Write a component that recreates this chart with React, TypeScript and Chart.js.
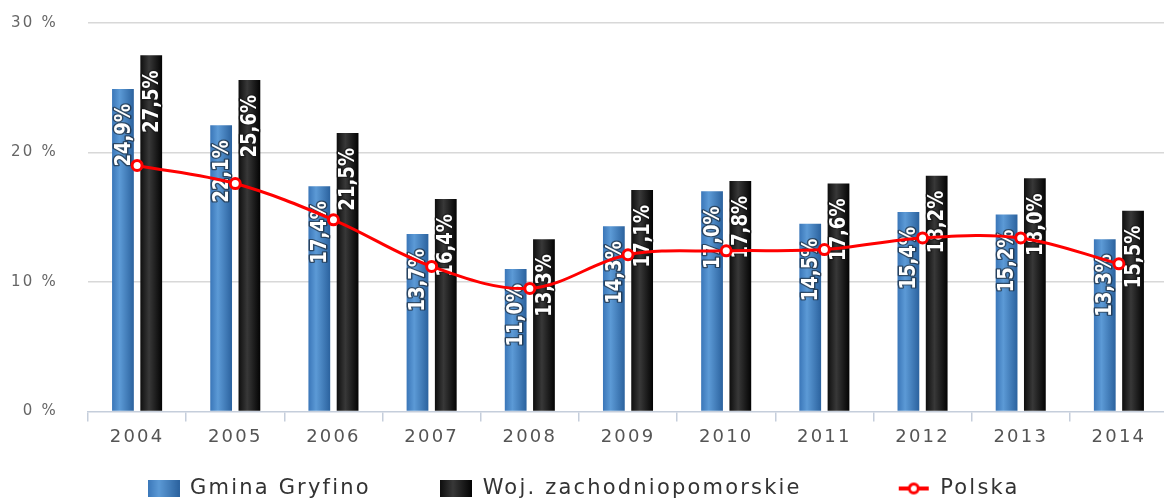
import React, { useEffect, useRef } from 'react';
import { Chart, registerables } from 'chart.js';

Chart.register(...registerables);

const years = ['2004', '2005', '2006', '2007', '2008', '2009', '2010', '2011', '2012', '2013', '2014'];
const gminaGryfino = [24.9, 22.1, 17.4, 13.7, 11.0, 14.3, 17.0, 14.5, 15.4, 15.2, 13.3];
const wojZachodniopomorskie = [27.5, 25.6, 21.5, 16.4, 13.3, 17.1, 17.8, 17.6, 18.2, 18.0, 15.5];
const polska = [19.0, 17.6, 14.8, 11.2, 9.5, 12.1, 12.4, 12.5, 13.4, 13.4, 11.4];
const yTicks = [0, 10, 20, 30];
const seriesNames = ['Gmina Gryfino', 'Woj. zachodniopomorskie', 'Polska'];
const legendTrail = [5, 8, 1];

const CAT_PCT = 0.576;
const BAR_PCT = 0.77;
const BLUE_STOPS: [number, string][] = [[0, '#3a76b8'], [0.35, '#5c9ad6'], [1, '#2b629e']];
const BLACK_STOPS: [number, string][] = [[0, '#0e0e0e'], [0.4, '#383838'], [1, '#030303']];

function barFill(stops: [number, string][], dsIndex: number) {
  return (c: any) => {
    const chart = c.chart;
    const xs = chart.scales && chart.scales.x;
    if (!xs || !chart.chartArea || c.dataIndex === undefined) return stops[1][1];
    const band = xs.width / years.length;
    const xc = xs.getPixelForValue(c.dataIndex);
    const sep = (band * CAT_PCT) / 2;
    const center = xc + (dsIndex === 0 ? -sep / 2 : sep / 2);
    const w = sep * BAR_PCT;
    const g = chart.ctx.createLinearGradient(center - w / 2, 0, center + w / 2, 0);
    stops.forEach(([o, col]) => g.addColorStop(o, col));
    return g;
  };
}

function barSwatch(stops: [number, string][]) {
  const cv = document.createElement('canvas');
  cv.width = 32;
  cv.height = 17;
  const x = cv.getContext('2d')!;
  const g = x.createLinearGradient(0, 0, 32, 0);
  stops.forEach(([o, col]) => g.addColorStop(o, col));
  x.fillStyle = g;
  x.fillRect(0, 0, 32, 17);
  return cv;
}

function lineSwatch() {
  const cv = document.createElement('canvas');
  cv.width = 32;
  cv.height = 16;
  const x = cv.getContext('2d')!;
  x.strokeStyle = '#ff0000';
  x.lineWidth = 4;
  x.beginPath();
  x.moveTo(1, 8);
  x.lineTo(31, 8);
  x.stroke();
  x.beginPath();
  x.arc(16, 8, 4.5, 0, Math.PI * 2);
  x.fillStyle = '#fff';
  x.fill();
  x.lineWidth = 3;
  x.stroke();
  return cv;
}

const SPACING = '2.2px';
const spacingPlugin = {
  id: 'letterSpacing',
  beforeUpdate(chart: any) { chart.ctx.letterSpacing = SPACING; },
  beforeLayout(chart: any) { chart.ctx.letterSpacing = SPACING; },
  beforeDraw(chart: any) { chart.ctx.letterSpacing = SPACING; },
};

const barLabelPlugin = {
  id: 'barLabels',
  afterDatasetDraw(chart: any, args: any) {
    const meta = args.meta;
    if (meta.type !== 'bar') return;
    const ds = chart.data.datasets[args.index];
    const ctx = chart.ctx;
    meta.data.forEach((el: any, i: number) => {
      const v = ds.data[i] as number;
      const text = v.toFixed(1).replace('.', ',') + '%';
      ctx.save();
      ctx.letterSpacing = '0px';
      ctx.translate(el.x, el.y + 15);
      ctx.rotate(-Math.PI / 2);
      ctx.scale(0.82, 1);
      ctx.font = 'bold 22px "DejaVu Sans"';
      ctx.textAlign = 'right';
      ctx.textBaseline = 'middle';
      ctx.lineJoin = 'round';
      ctx.strokeStyle = 'rgba(20,20,20,0.55)';
      ctx.lineWidth = 3;
      ctx.strokeText(text, 0, 1);
      ctx.fillStyle = '#ffffff';
      ctx.fillText(text, 0, 1);
      ctx.restore();
    });
  },
};

export default function App() {
  const ref = useRef<HTMLCanvasElement>(null);

  useEffect(() => {
    if (!ref.current) return;
    const swatches = [barSwatch(BLUE_STOPS), barSwatch(BLACK_STOPS), lineSwatch()];
    const chart = new Chart(ref.current, {
      type: 'bar',
      data: {
        labels: years,
        datasets: [
          {
            type: 'bar',
            label: seriesNames[0],
            data: gminaGryfino,
            backgroundColor: barFill(BLUE_STOPS, 0) as any,
            borderWidth: 0,
            categoryPercentage: CAT_PCT,
            barPercentage: BAR_PCT,
            order: 1,
          },
          {
            type: 'bar',
            label: seriesNames[1],
            data: wojZachodniopomorskie,
            backgroundColor: barFill(BLACK_STOPS, 1) as any,
            borderWidth: 0,
            categoryPercentage: CAT_PCT,
            barPercentage: BAR_PCT,
            order: 1,
          },
          {
            type: 'line',
            label: seriesNames[2],
            data: polska,
            borderColor: '#ff0000',
            borderWidth: 3,
            pointRadius: 5,
            pointBorderWidth: 3,
            pointBackgroundColor: '#ffffff',
            pointBorderColor: '#ff0000',
            tension: 0.35,
            order: 0,
          } as any,
        ],
      },
      options: {
        animation: false,
        responsive: false,
        devicePixelRatio: 1,
        layout: { padding: { top: 23, left: 0, right: 0, bottom: 0 } },
        plugins: {
          tooltip: { enabled: false },
          legend: {
            position: 'bottom',
            labels: {
              usePointStyle: true,
              pointStyleWidth: 32,
              boxHeight: 17,
              padding: 25,
              color: '#333333',
              font: { family: 'DejaVu Sans', size: 21 },
              generateLabels: () =>
                seriesNames.map((name, i) => ({
                  text: name + '\u00A0'.repeat(legendTrail[i]),
                  pointStyle: swatches[i] as any,
                  fillStyle: 'rgba(0,0,0,0)',
                  strokeStyle: 'rgba(0,0,0,0)',
                  lineWidth: 0,
                  hidden: false,
                  datasetIndex: i,
                  fontColor: '#333333',
                })),
            },
          },
        },
        scales: {
          x: {
            offset: true,
            grid: {
              display: true,
              drawOnChartArea: false,
              drawTicks: true,
              tickLength: 10,
              color: '#c5cedb',
              lineWidth: 1.5,
              offset: true,
            },
            border: { display: true, color: '#c5cedb', width: 1.5 },
            ticks: {
              color: '#555555',
              font: { family: 'DejaVu Sans', size: 18 },
              padding: 5,
              maxRotation: 0,
              autoSkip: false,
            },
          },
          y: {
            min: 0,
            max: 30,
            afterBuildTicks: (s: any) => {
              s.ticks = yTicks.map((v) => ({ value: v }));
            },
            afterFit: (s: any) => {
              s.width = 88;
            },
            grid: {
              color: (c: any) => (c.tick && c.tick.value === 0 ? 'rgba(0,0,0,0)' : '#d8d8d8'),
              lineWidth: 1.5,
              drawTicks: true,
              tickLength: 30,
              tickColor: 'rgba(0,0,0,0)',
            },
            border: { display: false },
            ticks: {
              padding: 0,
              color: '#666666',
              font: { family: 'DejaVu Sans', size: 15 },
              callback: (v: any) => v + ' %',
            },
          },
        },
      },
      plugins: [spacingPlugin, barLabelPlugin],
    });
    return () => chart.destroy();
  }, []);

  return (
    <div
      style={{
        position: 'absolute',
        left: 0,
        top: 0,
        width: 1164,
        height: 500,
        overflow: 'hidden',
        background: '#ffffff',
      }}
    >
      <canvas ref={ref} width={1176} height={509} style={{ display: 'block' }} />
    </div>
  );
}
